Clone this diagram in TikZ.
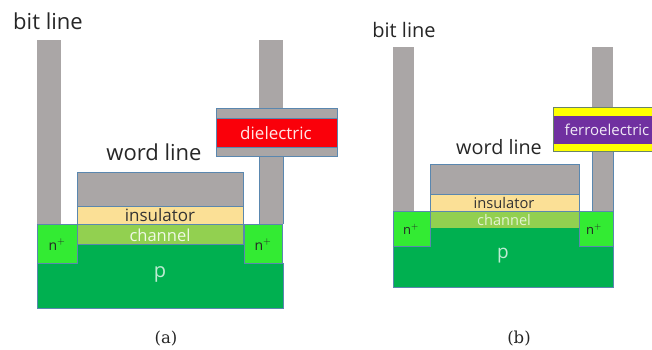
\documentclass[tikz,border=0pt]{standalone}
\usepackage{fontspec}
\setmainfont{Open Sans}
\newfontfamily\capfont{DejaVu Serif}
\definecolor{metal}{RGB}{170,166,166}
\definecolor{edge}{RGB}{90,135,175}
\definecolor{ins}{RGB}{251,224,150}
\definecolor{chan}{RGB}{146,208,80}
\definecolor{pbody}{RGB}{0,176,80}
\definecolor{nplus}{RGB}{51,235,51}
\definecolor{diel}{RGB}{250,0,10}
\definecolor{ferro}{RGB}{112,48,160}
\definecolor{yel}{RGB}{255,255,0}
\tikzset{
  layer/.style={draw=edge,line width=0.8pt},
  bar/.style={fill=metal,draw=none},
  lbl/.style={inner sep=0pt,anchor=base},
}
\begin{document}
\begin{tikzpicture}[x=1pt,y=-1pt]
\useasboundingbox (0,0) rectangle (652,349);
% (a)
\fill[bar] (37,40) rectangle (61,224);
\fill[bar] (259,40) rectangle (283,224);
\draw[edge,line width=0.8pt] (259,156) -- (259,224) (283,156) -- (283,224);
\fill[pbody] (37,244) rectangle (283,308);
\draw[layer] (37,263) -- (37,308) -- (283,308) -- (283,263);
\draw[layer,fill=nplus] (37,224) rectangle (77,263);
\draw[layer,fill=nplus] (244,224) rectangle (282,263);
\draw[layer,fill=metal] (77,172) rectangle (243,206);
\draw[layer,fill=ins] (77,206) rectangle (243,224);
\draw[layer,fill=chan] (77,224) rectangle (243,244);
\draw[layer,fill=metal] (216,108) rectangle (337,156);
\draw[layer,fill=diel] (216,118) rectangle (337,147);
\node[lbl,font=\fontsize{22}{24}\selectfont,text=black!85] (a1) at (48,29) {bit line};
\node[lbl,font=\fontsize{22}{24}\selectfont,text=black!85] (a2) at (154,160) {word line};
\node[lbl,font=\fontsize{17}{19}\selectfont,text=white!90!red] (a3) at (276,139) {dielectric};
\node[lbl,font=\fontsize{17}{19}\selectfont,text=black!80] (a4) at (160,221) {insulator};
\node[lbl,font=\fontsize{16.5}{18}\selectfont,text=white!85!chan] (a5) at (160,241) {channel};
\node[lbl,font=\fontsize{14}{16}\selectfont,text=black!85] (a6) at (57,250) {n$^{+}$};
\node[lbl,font=\fontsize{14}{16}\selectfont,text=black!85] (a7) at (263,250) {n$^{+}$};
\node[lbl,font=\fontsize{20}{22}\selectfont,text=white!75!pbody] (a8) at (160,277) {p};
\node[lbl,font=\capfont\fontsize{16.5}{18}\selectfont,text=black!85] (a9) at (166,343) {(a)};
% (b)
\fill[bar] (393,47) rectangle (414,211);
\fill[bar] (592,47) rectangle (613,211);
\draw[edge,line width=0.8pt] (592,151) -- (592,211) (613,151) -- (613,211);
\fill[pbody] (393,228) rectangle (613,287);
\draw[layer] (393,246) -- (393,287) -- (613,287) -- (613,246);
\draw[layer,fill=nplus] (393,211) rectangle (430,246);
\draw[layer,fill=nplus] (579,211) rectangle (613,246);
\draw[layer,fill=metal] (430,164) rectangle (579,194);
\draw[layer,fill=ins] (430,194) rectangle (579,211);
\fill[chan] (430.5,211) rectangle (578.5,228);
\draw[layer] (430,211) -- (579,211);
\draw[draw=edge!60!olive,line width=0.8pt,fill=yel] (553.5,107) rectangle (652,151);
\fill[ferro] (553.5,115.5) rectangle (652,143.5);
\node[lbl,font=\fontsize{20}{22}\selectfont,text=black!85] (b1) at (404,37) {bit line};
\node[lbl,font=\fontsize{19.8}{22}\selectfont,text=black!85] (b2) at (499,154) {word line};
\node[lbl,font=\fontsize{15}{17}\selectfont,text=white!90!ferro] (b3) at (607,135) {ferroelectric};
\node[lbl,font=\fontsize{14.7}{17}\selectfont,text=black!80] (b4) at (504,208) {insulator};
\node[lbl,font=\fontsize{14.6}{17}\selectfont,text=white!75!chan] (b5) at (504,225) {channel};
\node[lbl,font=\fontsize{13}{15}\selectfont,text=black!85] (b6) at (411,234) {n$^{+}$};
\node[lbl,font=\fontsize{13}{15}\selectfont,text=black!85] (b7) at (594,234) {n$^{+}$};
\node[lbl,font=\fontsize{19}{21}\selectfont,text=white!75!pbody] (b8) at (503,258) {p};
\node[lbl,font=\capfont\fontsize{16.5}{18}\selectfont,text=black!85] (b9) at (519,343) {(b)};
\end{tikzpicture}
\end{document}
